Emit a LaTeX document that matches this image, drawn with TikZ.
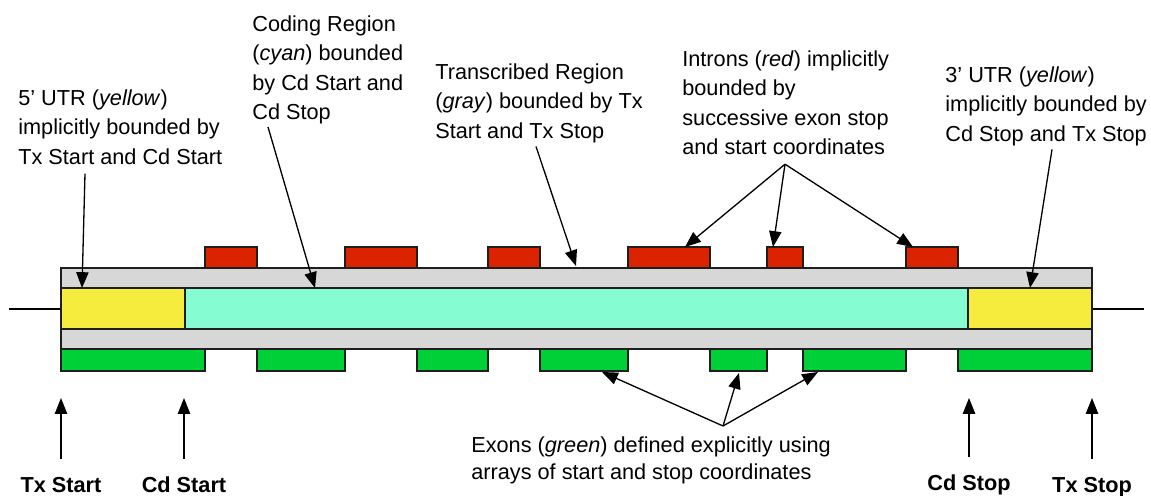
\documentclass[tikz,border=0pt]{standalone}
\usepackage{fontspec}
\setmainfont{Liberation Sans}
\usetikzlibrary{arrows.meta, calc}

\definecolor{txgray}{RGB}{215,215,215}
\definecolor{utryellow}{RGB}{245,236,62}
\definecolor{cdcyan}{RGB}{133,252,210}
\definecolor{inred}{RGB}{220,35,0}
\definecolor{exgreen}{RGB}{0,208,56}
\definecolor{edge}{RGB}{30,30,30}

\begin{document}
\begin{tikzpicture}[x=0.02cm, y=-0.02cm,
    box/.style={draw=edge, line width=1.1pt},
    pointer/.style={-{Triangle[length=9pt,width=7pt]}, line width=0.75pt},
    note/.style={inner sep=0pt, anchor=north west, align=left,
      font=\fontsize{12.35}{16.8}\selectfont},
    endlabel/.style={inner sep=0pt, anchor=base,
      font=\fontsize{12.35}{15}\selectfont\bfseries}]
  \useasboundingbox (0,0) rectangle (1151,496);

  % gene body
  \draw[line width=1pt] (9,309) -- (61,309);
  \draw[line width=1pt] (1092,309) -- (1144,309);
  \draw[box, fill=txgray] (61,268) rectangle (1092,349);
  \draw[box, fill=utryellow] (61,288) rectangle (185,329);
  \draw[box, fill=cdcyan] (185,288) rectangle (968,329);
  \draw[box, fill=utryellow] (968,288) rectangle (1092,329);

  % introns on top
  \foreach \a/\b in {205/257, 345/417, 488/540, 628/710, 767/803, 906/958}{
    \draw[box, fill=inred] (\a,247) rectangle (\b,268);
  }
  % exons below
  \foreach \a/\b in {61/205, 257/345, 417/488, 540/628, 710/767, 803/906, 958/1092}{
    \draw[box, fill=exgreen] (\a,349) rectangle (\b,371);
  }

  % where the arrows land
  \coordinate (utr5in) at (82,288);
  \coordinate (cdin) at (315,288);
  \coordinate (txin) at (576,266);
  \coordinate (in4) at (685,247);
  \coordinate (in5) at (773,247);
  \coordinate (in6) at (913,247);
  \coordinate (ex4) at (602,372);
  \coordinate (ex5) at (739,373);
  \coordinate (ex6) at (818,372);
  \coordinate (utr3in) at (1030,288);

  % notes
  \node[note] (utr5) at (18,89) {5' UTR (\textit{yellow})\\implicitly bounded by\\Tx Start and Cd Start};
  \node[note] (coding) at (252,15) {Coding Region\\(\textit{cyan}) bounded\\by Cd Start and\\Cd Stop};
  \node[note] (transcr) at (435,63) {Transcribed Region\\(\textit{gray}) bounded by Tx\\Start and Tx Stop};
  \node[note] (introns) at (682,50) {Introns (\textit{red}) implicitly\\bounded by\\successive exon stop\\and start coordinates};
  \node[note] (utr3) at (945,66) {3' UTR (\textit{yellow})\\implicitly bounded by\\Cd Stop and Tx Stop};
  \node[note, font=\fontsize{12.35}{15.6}\selectfont] (exons) at (471,436) {Exons (\textit{green}) defined explicitly using\\arrays of start and stop coordinates};

  \draw[pointer] ($(utr5.south west)+(67,9)$) -- (utr5in);
  \draw[pointer] ($(coding.south west)+(16,2.5)$) -- (cdin);
  \draw[pointer] ($(transcr.south west)+(101,3.5)$) -- (txin);
  \draw[pointer] ($(utr3.south west)+(107,3.5)$) -- (utr3in);

  \coordinate (inapex) at ($(introns.south west)+(103,9)$);
  \foreach \t in {in4,in5,in6}
    \draw[pointer] (inapex) -- (\t);
  \coordinate (exapex) at ($(exons.north west)+(252,-10)$);
  \foreach \t in {ex4,ex5,ex6}
    \draw[pointer] (exapex) -- (\t);

  % start / stop markers
  \foreach \n/\x/\y/\t in {txstart/61/492.5/Tx Start, cdstart/184/492.5/Cd Start,
      cdstop/969/490.5/Cd Stop, txstop/1092/492.5/Tx Stop}{
    \node[endlabel] (\n) at (\x,\y) {\t};
    \coordinate (\n tip) at (\x,398);
    \draw[pointer] ([yshift=10pt]\n.north) -- (\n tip);
  }
\end{tikzpicture}
\end{document}
